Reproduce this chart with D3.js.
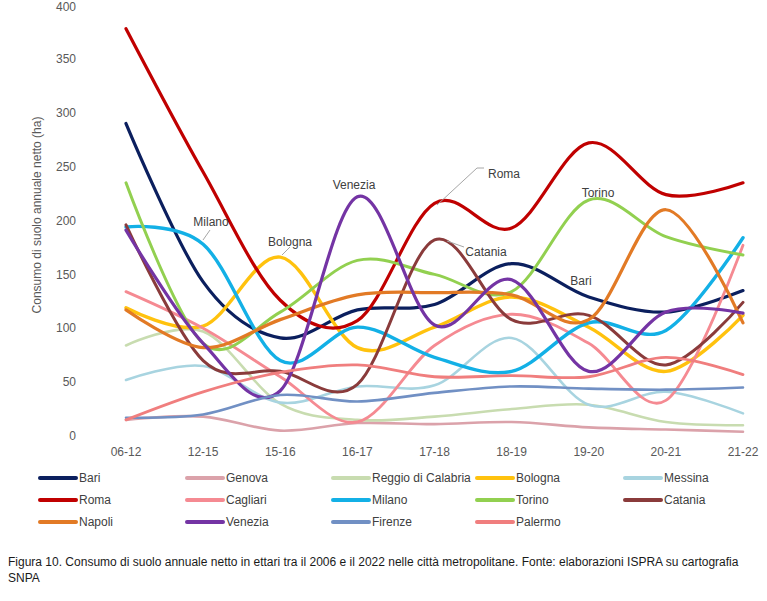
<!DOCTYPE html>
<html><head><meta charset="utf-8">
<script src="https://cdn.jsdelivr.net/npm/d3@7"></script>
<style>
body{margin:0;background:#fff;}
svg text{font-family:"Liberation Sans Narrow","Arial Narrow","Liberation Sans",Arial,sans-serif;}
</style></head>
<body><svg id="c" width="767" height="601"></svg>
<script>
const categories = ["06-12","12-15","15-16","16-17","17-18","18-19","19-20","20-21","21-22"];
const yTicks = [0,50,100,150,200,250,300,350,400];
const seriesNames = ["Bari","Genova","Reggio di Calabria","Bologna","Messina","Roma","Cagliari","Milano","Torino","Catania","Napoli","Venezia","Firenze","Palermo"];
const bari     = [290,143,91,117,122,160,129,115,135];
const genova   = [15,18,5,12,11,13,8,6,4];
const reggio   = [84,97,30,15,18,25,29,13,10];
const bologna  = [119,102,166,82,101,129,101,60,112];
const messina  = [52,65,31,46,47,91,29,41,21];
const roma     = [378,245,126,107,216,193,272,224,235];
const cagliari = [134,100,55,13,84,113,86,33,177];
const milano   = [194,178,70,101,73,60,105,98,184];
const torino   = [235,86,115,163,150,134,219,185,168];
const catania  = [196,70,60,48,182,108,112,66,124];
const napoli   = [117,82,108,131,133,131,108,210,105];
const venezia  = [191,86,42,222,103,145,60,115,114];
const firenze  = [17,20,38,32,40,46,44,43,45];
const palermo  = [15,41,59,66,55,56,55,73,57];
const seriesValues = [bari,genova,reggio,bologna,messina,roma,cagliari,milano,torino,catania,napoli,venezia,firenze,palermo];
const annotations = ["Milano","Bologna","Venezia","Roma","Catania","Torino","Bari"];

const colors = {"Bari":"#0b1f5e","Genova":"#dba2aa","Reggio di Calabria":"#c8dcb0","Bologna":"#ffc20e",
 "Messina":"#a8d4e0","Roma":"#c00000","Cagliari":"#f58a92","Milano":"#13b0e6","Torino":"#92d050",
 "Catania":"#8a3b3b","Napoli":"#e27a25","Venezia":"#7434a4","Firenze":"#7190c4","Palermo":"#f07e7e"};
const widths = {"Bari":3.2,"Genova":2.6,"Reggio di Calabria":2.6,"Bologna":3.4,"Messina":2.6,"Roma":3.2,
 "Cagliari":2.8,"Milano":3.4,"Torino":3,"Catania":3,"Napoli":3.2,"Venezia":3.2,"Firenze":2.6,"Palermo":2.8};

const svg = d3.select("#c");
const x = d3.scalePoint().domain(categories).range([126,743]);
const y = d3.scaleLinear().domain([0,400]).range([436,5]);

// y ticks
svg.append("g").selectAll("text").data(yTicks).join("text")
  .attr("x",76).attr("y",d=>Math.max(y(d),7)).attr("dy","0.35em").attr("text-anchor","end")
  .attr("font-size",12).attr("fill","#595959").text(d=>d);
// x ticks
svg.append("g").selectAll("text").data(categories).join("text")
  .attr("x",d=>x(d)).attr("y",452).attr("dy","0.35em").attr("text-anchor","middle")
  .attr("font-size",12).attr("fill","#595959").text(d=>d);
// y title
svg.append("text").attr("transform","translate(37,215) rotate(-90)").attr("text-anchor","middle")
  .attr("dy","0.35em").attr("font-size",12).attr("fill","#595959").text("Consumo di suolo annuale netto (ha)");

const line = d3.line().x((d,i)=>x(categories[i])).y(d=>y(d)).curve(d3.curveCardinal.tension(0));
svg.append("g").selectAll("path").data(seriesNames).join("path")
  .attr("d",(n,i)=>line(seriesValues[i])).attr("fill","none")
  .attr("stroke",n=>colors[n]).attr("stroke-width",n=>widths[n]).attr("stroke-linecap","round");

// annotation labels with leaders
const annPos = {"Milano":[211,222],"Bologna":[290,242],"Venezia":[354,185],"Roma":[504,174],"Catania":[486,252],"Torino":[598,193],"Bari":[581,281]};
const leaders = {"Milano":[[210,230],[203,240]],"Bologna":[[290,247],[282,255]],"Roma":[[484,168],[477,168],[437,205]],"Catania":[[464,247],[447,241]]};
const ann = svg.append("g");
annotations.forEach(n=>{
  if(leaders[n]) ann.append("path").attr("d",d3.line()(leaders[n])).attr("fill","none").attr("stroke","#a6a6a6").attr("stroke-width",1);
  ann.append("text").attr("x",annPos[n][0]).attr("y",annPos[n][1]).attr("dy","0.35em").attr("text-anchor","middle")
   .attr("font-size",12).attr("fill","#404040").text(n);
});

// legend
const colX = [40,187,333,477,625], rowY = [478,500,522];
const leg = svg.append("g");
seriesNames.forEach((n,i)=>{
  const cx = colX[i%5], cy = rowY[Math.floor(i/5)];
  leg.append("line").attr("x1",cx).attr("x2",cx+36).attr("y1",cy).attr("y2",cy)
    .attr("stroke",colors[n]).attr("stroke-width",4).attr("stroke-linecap","round");
  leg.append("text").attr("x",cx+39).attr("y",cy).attr("dy","0.35em").attr("font-size",12).attr("fill","#404040").text(n);
});

// caption
svg.append("text").attr("x",8).attr("y",562).attr("dy","0.35em").attr("font-size",12).attr("fill","#1a1a1a")
  .text("Figura 10. Consumo di suolo annuale netto in ettari tra il 2006 e il 2022 nelle città metropolitane. Fonte: elaborazioni ISPRA su cartografia");
svg.append("text").attr("x",8).attr("y",578).attr("dy","0.35em").attr("font-size",12).attr("fill","#1a1a1a").text("SNPA");
</script></body></html>
